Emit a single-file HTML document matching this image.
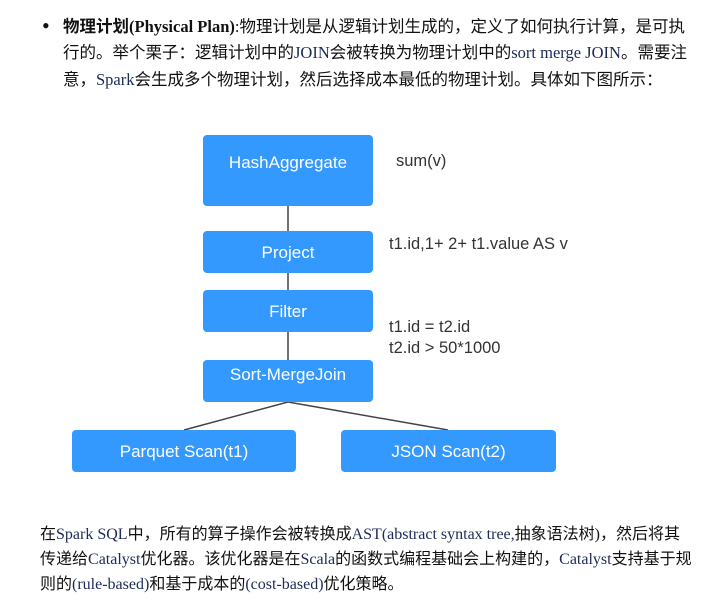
<!DOCTYPE html>
<html><head><meta charset="utf-8"><style>
body{margin:0;width:720px;height:602px;background:#fff;position:relative;overflow:hidden;font-family:"Liberation Serif","Noto Sans CJK SC",serif;color:#111;}
.l{position:absolute;white-space:nowrap;font-size:16px;line-height:20px;}
.e{color:#1c2a55;}
.b{position:absolute;background:#3399ff;border-radius:4px;color:#fff;font-family:"Liberation Sans","DejaVu Sans",sans-serif;font-size:17px;text-align:center;}
.t{position:absolute;font-family:"Liberation Sans","DejaVu Sans",sans-serif;font-size:16.5px;color:#333;white-space:nowrap;line-height:20px;}
</style></head><body>
<div class="l" style="left:42px;top:16px;font-size:22px;">•</div>
<div class="l" style="left:63px;top:17px;font-size:16.5px;"><b>物理计划(Physical Plan)</b>:物理计划是从逻辑计划生成的，定义了如何执行计算，是可执</div>
<div class="l" style="left:63px;top:43px;font-size:16.5px;">行的。举个栗子：逻辑计划中的<span class="e">JOIN</span>会被转换为物理计划中的<span class="e">sort merge JOIN</span>。需要注</div>
<div class="l" style="left:63px;top:70px;font-size:16.5px;">意，<span class="e">Spark</span>会生成多个物理计划，然后选择成本最低的物理计划。具体如下图所示：</div>

<svg style="position:absolute;left:0;top:0" width="720" height="602">
<line x1="288" y1="206" x2="288" y2="360" stroke="#444" stroke-width="1.5"/>
<line x1="288" y1="402" x2="184" y2="430" stroke="#444" stroke-width="1.5"/>
<line x1="288" y1="402" x2="448" y2="430" stroke="#444" stroke-width="1.5"/>
</svg>
<div class="b" style="left:203px;top:135px;width:170px;height:71px;line-height:56px;">HashAggregate</div>
<div class="b" style="left:203px;top:231px;width:170px;height:42px;line-height:44px;">Project</div>
<div class="b" style="left:203px;top:290px;width:170px;height:42px;line-height:44px;">Filter</div>
<div class="b" style="left:203px;top:360px;width:170px;height:42px;line-height:30px;">Sort-MergeJoin</div>
<div class="b" style="left:72px;top:430px;width:224px;height:42px;line-height:44px;">Parquet Scan(t1)</div>
<div class="b" style="left:341px;top:430px;width:215px;height:42px;line-height:44px;">JSON Scan(t2)</div>
<div class="t" style="left:396px;top:151px;">sum(v)</div>
<div class="t" style="left:389px;top:234px;">t1.id,1+ 2+ t1.value AS v</div>
<div class="t" style="left:389px;top:317px;">t1.id = t2.id</div>
<div class="t" style="left:389px;top:338px;">t2.id &gt; 50*1000</div>

<div class="l" style="left:40px;top:525px;">在<span class="e">Spark SQL</span>中，所有的算子操作会被转换成<span class="e">AST(abstract syntax tree,</span>抽象语法树)，然后将其</div>
<div class="l" style="left:40px;top:550px;">传递给<span class="e">Catalyst</span>优化器。该优化器是在<span class="e">Scala</span>的函数式编程基础会上构建的，<span class="e">Catalyst</span>支持基于规</div>
<div class="l" style="left:40px;top:575px;">则的<span class="e">(rule-based)</span>和基于成本的<span class="e">(cost-based)</span>优化策略。</div>
</body></html>
